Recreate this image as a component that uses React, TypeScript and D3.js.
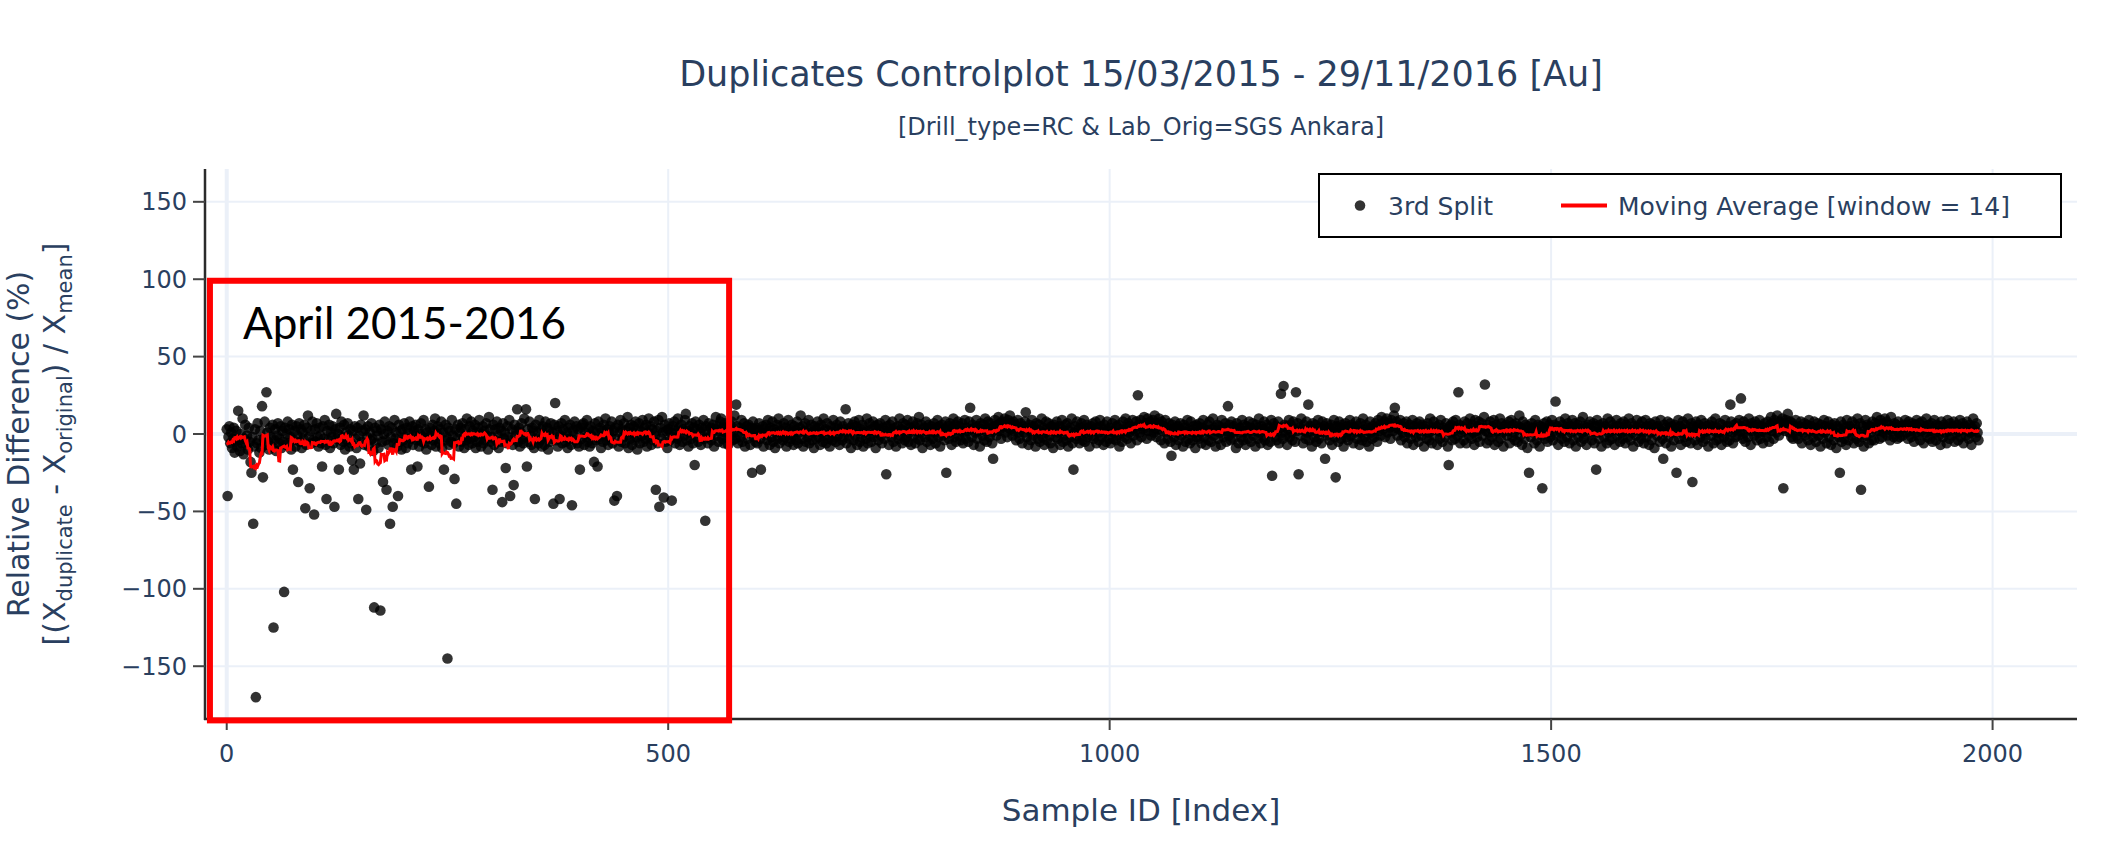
import * as d3 from 'd3';

// relative difference (%) per sample index in blocks of 100 samples
const split_0000 = [
  3, -40, -2, 5, -6, 1, -9, -3, 4, -12,
  -5, 2, -8, 15, -4, -11, 0, -6, 10, -13,
  -3, 6, -7, -1, -10, 4, -5, -18, -25, -2,
  -58, -8, 3, -170, -6, 7, -4, -12, 2, -9,
  18, -28, -3, 8, -7, 27, 1, -5, -10, 4,
  -2, -8, 6, -125, -4, 3, -11, -1, 7, -6,
  -3, 5, -9, 2, -5, -102, 4, -7, 0, 8,
  -6, 3, -2, -10, 6, -23, -4, 2, -8, 5,
  -1, -31, 7, -5, 3, -9, 1, -3, 6, -48,
  -7, 4, 12, -2, -35, 2, -6, 8, -4, -52,
];
const split_0100 = [
  3, -5, 7, -2, -8, 4, -1, -6, -21, 5,
  -3, 9, -7, -42, 2, -4, 6, -9, 1, -2,
  5, -6, -47, 3, 13, -3, 0, -23, 4, -7,
  8, -2, -5, 6, -10, 1, -4, 7, -1, -8,
  3, -6, -17, 2, -23, 5, -3, -9, 4, -42,
  -1, -19, 6, -5, 2, 12, -7, 3, -49, -2,
  5, -8, 1, -4, 7, -3, -11, -112, 4, -6,
  2, -1, -9, 6, -114, 3, -5, -31, 0, 8,
  -4, -36, 2, -7, 5, -58, -2, 4, -47, -6,
  9, -3, 1, -8, -40, 6, -5, 2, -10, 3,
];
const split_0200 = [
  -4, 7, -2, -9, 4, -6, 1, 8, -3, -23,
  5, -7, 2, -1, 6, -4, -21, 3, -8, 0,
  7, -5, -2, 9, -6, 3, -10, 1, -3, -34,
  4, -1, -7, 6, -4, 2, 10, -8, 0, 5,
  -3, -6, 3, 8, -9, 1, -23, -4, 6, -2,
  -145, 4, -7, 2, -5, 9, -1, -6, -29, 3,
  -45, -3, 6, -8, 1, 4, -5, 7, -2, -9,
  3, -4, 10, -1, -7, 5, -3, 8, -6, 2,
  -2, 6, -9, 1, -5, 4, 9, -3, -8, 0,
  5, -6, 2, -4, 7, -1, -10, 11, 3, -5,
];
const split_0300 = [
  -2, -36, 6, -7, 3, -4, 8, -1, -9, 4,
  -5, 2, -44, 7, -3, 1, -22, -6, 5, -2,
  9, -40, -4, 3, -7, -33, 6, -1, 2, 16,
  -5, 4, -8, 1, 7, -3, -6, 10, -2, 16,
  -21, 3, -5, 8, -1, -7, 4, 2, -9, -42,
  6, -3, 1, -6, 9, -4, 3, -8, 5, -2,
  -7, 8, -1, 4, -10, 2, -5, 7, -3, 1,
  -45, 6, 20, -4, 2, -8, 5, -42, -1, 7,
  -6, 3, -2, 9, -5, 1, -9, 4, -3, 6,
  -7, -46, 2, -1, 8, -4, 5, -6, 3, -8,
];
const split_0400 = [
  -23, 4, -3, 6, 7, -7, 1, -2, 9, -5,
  3, -8, 5, -1, -6, 2, -18, 7, -4, 1,
  -21, 8, -3, 4, -9, 2, -5, 6, -1, 10,
  -4, 3, -7, 1, 5, -2, 8, -6, 2, -43,
  4, -3, -40, 6, -8, 1, 9, -5, 3, -2,
  7, -6, 2, -1, 11, -9, 4, -3, 6, -7,
  1, 5, -4, 8, -2, -10, 3, 7, -6, 2,
  -1, 9, -5, 4, -3, 6, -8, 1, 10, -2,
  5, -7, 3, -4, 8, -1, -36, 2, -6, 9,
  -47, 4, -3, 11, 1, -41, 6, -5, 2, -9,
];
const split_0500 = [
  3, 7, -4, 1, -43, 5, -2, 8, -6, 2,
  -3, 10, 4, -7, 1, 6, -5, 3, -1, 9,
  13, -4, 2, -8, 5, 1, -3, 7, -6, 4,
  -20, 8, -2, 3, -5, 6, 1, -7, 4, -1,
  9, -3, -56, 5, 2, -6, 7, -2, 4, -4,
  1, 6, -8, 3, 11, -1, 5, -5, 2, 8,
  10, -3, 4, -6, 7, 1, -2, 5, -7, 3,
  6, -1, 8, -4, 2, 12, -3, 19, 5, -6,
  1, 4, -2, 9, -5, 3, 7, -8, 2, 5,
  -3, 6, 1, -7, 4, -25, 8, -2, 3, -5,
];
const split_0600 = [
  4, -6, 2, 7, -3, -23, 1, 5, -8, 3,
  -1, 6, -4, 9, 2, -7, 4, -2, 8, -5,
  3, -9, 1, 6, -3, 10, -6, 2, 5, -1,
  -4, 7, -2, 4, -8, 1, 9, -5, 3, -3,
  6, -1, -7, 5, 2, -4, 8, -6, 1, 4,
  12, -3, 5, -8, 2, 7, -5, 1, -2, 9,
  -6, 3, 6, -4, 1, -9, 5, 2, -3, 8,
  -2, 4, -7, 6, 1, -5, 10, -1, 3, -6,
  7, -3, 2, -8, 5, 1, -4, 9, -2, 4,
  -5, 6, -1, 3, -7, 8, 2, -4, 5, -2,
];
const split_0700 = [
  3, 16, -6, 1, 7, -3, 4, -9, 2, 6,
  -4, 8, -1, 5, -7, 2, 9, -5, 3, -2,
  6, -8, 1, 4, -3, 10, -6, 2, 7, -1,
  -5, 3, 8, -2, 5, -9, 1, 6, -4, 3,
  7, -1, -6, 4, 2, -3, 9, -26, 5, 1,
  -7, 6, 3, -2, 8, -5, 1, 4, -8, 2,
  5, -3, 10, -1, 3, -6, 7, 2, -4, 6,
  -2, 9, -5, 1, 4, -7, 3, 8, -1, 5,
  -6, 2, 7, -3, 11, -4, 1, 6, -9, 3,
  4, -2, 8, -5, 2, 6, -1, -7, 5, 3,
];
const split_0800 = [
  -3, 7, 1, -6, 4, 9, -2, 5, -8, 2,
  6, -1, 3, -4, 8, -25, 2, 5, -3, 7,
  1, -7, 4, 10, -2, 6, -5, 3, 8, -1,
  5, -4, 2, 7, -6, 1, 9, -3, 4, 2,
  -5, 8, 17, 3, -2, 6, -7, 4, 1, 9,
  -3, 5, 2, -8, 7, 3, -1, 6, -4, 10,
  2, -5, 8, 4, -2, 7, 1, -6, -16, 5,
  9, 3, -1, 6, 11, 2, 7, -3, 8, 4,
  5, 10, 1, 6, -2, 9, 4, 12, 3, 7,
  -1, 8, 2, 6, -4, 5, 9, 1, -3, 7,
];
const split_0900 = [
  3, -6, 5, 1, 8, 14, -2, 4, -7, 6,
  2, -4, 9, -1, 5, 3, -8, 7, 1, -3,
  6, -5, 2, 10, -2, 4, -7, 1, 8, -4,
  3, 7, -1, -6, 5, 2, -9, 6, 4, -2,
  8, -3, 1, 5, -7, 3, 9, -5, 2, -1,
  6, -4, 7, -8, 2, 4, -2, 10, -6, -23,
  1, 5, -3, 8, -1, 3, -6, 4, 7, -4,
  2, 9, -5, 1, 6, -2, 4, -8, 3, 5,
  -1, 7, -3, 2, 8, -6, 4, 1, -4, 9,
  5, -2, 3, -7, 6, 1, -5, 8, 2, -3,
];
const split_1000 = [
  4, -6, 2, 7, -3, 1, 9, -4, 5, -1,
  6, -8, 3, 1, -5, 8, 2, -2, 10, 4,
  -3, 7, 1, 5, -6, 3, 9, -1, 4, 2,
  8, -4, 25, 6, 1, 9, -2, 5, 3, 11,
  4, 7, -3, 10, 2, 6, 8, -1, 5, 9,
  1, 12, 4, -2, 7, 3, 10, 6, -4, 8,
  2, 5, -6, 9, 1, 4, -3, 7, 2, -5,
  -14, 6, 3, -2, 8, -7, 1, 5, -4, 3,
  7, -1, 2, -8, 6, 4, -5, 1, 9, -3,
  3, -6, 8, 2, -4, 5, 1, -9, 6, -2,
];
const split_1100 = [
  5, -3, 7, 1, -6, 4, 9, -2, 3, -7,
  2, 6, -4, 8, 1, -5, 3, 10, -1, 4,
  -8, 2, 6, -3, 5, 1, -7, 9, 3, -2,
  4, 7, -5, 2, 18, -1, 6, -4, 8, 1,
  -3, 5, 2, -9, 7, 3, -6, 4, 1, -2,
  9, -4, 6, 2, -7, 5, 1, -3, 8, 4,
  -5, 3, 7, -1, 2, -8, 6, 4, -3, 10,
  1, -6, 5, 3, -2, 8, -4, 2, 6, -7,
  4, 1, -5, 9, -27, 3, 7, -2, 5, -4,
  2, 8, -6, 4, 26, 1, -3, 31, 6, -1,
];
const split_1200 = [
  5, -7, 3, 9, -2, 6, 1, -4, 8, 3,
  -5, 27, 2, 7, -26, 4, -1, 10, 3, -6,
  6, 2, -3, 8, 1, 19, -4, 5, 2, -8,
  7, 3, -2, 6, -5, 1, 9, -3, 4, 2,
  -6, 8, 1, 5, -16, 3, 7, -1, 4, -4,
  2, 6, -7, 3, 9, -2, -28, 5, 1, -5,
  8, 4, -3, 6, 1, -8, 3, 7, -2, 5,
  -4, 2, 9, -1, 6, 3, -6, 4, 1, 8,
  -3, 5, 2, -7, 7, 1, -4, 10, 3, -2,
  6, -5, 4, 2, -8, 8, 1, -3, 5, 3,
];
const split_1300 = [
  -2, 7, 4, -5, 9, 2, 6, -1, 11, 5,
  3, 8, -2, 6, 10, 1, 7, 4, -3, 9,
  5, 2, 12, 17, 4, 8, -1, 6, 3, 9,
  -4, 5, 1, 7, -2, 4, 8, -6, 3, 1,
  6, -3, 2, 9, -7, 5, 1, -2, 7, 3,
  -5, 8, 4, -1, 6, 2, -8, 5, 3, -3,
  7, 1, -4, 10, 2, -6, 4, 8, -1, 3,
  5, -7, 2, 6, -3, 9, 1, -5, 4, 2,
  -2, 7, 3, -8, -20, 5, 1, 6, -4, 8,
  2, -3, 9, 4, -1, 27, 6, -6, 3, 1,
];
const split_1400 = [
  5, -4, 8, 2, -6, 7, 3, -1, 10, 4,
  -3, 6, 1, -7, 9, 2, -2, 5, 8, -5,
  3, 7, -1, 4, 11, 32, 2, -6, 6, 1,
  -4, 8, 3, -2, 5, 9, -7, 1, 6, 2,
  -5, 4, 10, -3, 7, 1, -8, 5, 3, 6,
  -1, 2, 8, -6, 4, 9, -2, 6, 1, -4,
  7, 3, -5, 5, 12, -1, 4, -7, 8, 2,
  -3, 6, 1, -9, 5, -25, 3, -2, 7, 4,
  1, -6, 9, 2, -4, 6, 3, -8, 5, -1,
  -35, 4, 7, -3, 2, 8, -5, 1, 6, -2,
];
const split_1500 = [
  4, 9, -4, 2, 6, 21, -1, 5, -7, 3,
  8, 1, -3, 6, 2, -5, 10, 4, -2, 7,
  3, -6, 5, 1, 9, -4, 2, 7, -8, 4,
  6, -2, 3, 8, -5, 1, 11, -3, 5, 2,
  -7, 4, 6, -1, 8, 3, -4, 2, 7, -6,
  5, -23, 9, 1, -3, 6, 2, -8, 4, 7,
  -2, 5, 3, -6, 10, 1, -4, 8, 2, -3,
  6, 4, -7, 3, 9, -1, 5, 2, -5, 7,
  1, -3, 8, 4, -6, 6, 2, -2, 10, 3,
  -4, 7, 1, -8, 5, 3, -1, 9, 4, -5,
];
const split_1600 = [
  6, 2, -3, 8, 1, -6, 4, 9, -2, 5,
  3, -7, 7, 1, -4, 6, 2, -9, 8, 4,
  -1, 5, 3, -5, 9, 2, -3, -16, 6, 1,
  -6, 4, 8, -2, 3, 7, -8, 5, 1, -4,
  6, 2, -25, 4, 9, -3, 5, -7, 1, 8,
  3, -2, 6, -5, 2, 10, -1, 4, -6, 7,
  -31, 5, 1, -4, 8, 3, -7, 6, 2, -2,
  9, 4, -5, 1, 7, -3, 5, 2, -8, 6,
  3, -1, 8, 5, -6, 2, 10, -4, 4, 1,
  -3, 7, 2, -7, 6, 1, -2, 9, 3, -5,
];
const split_1700 = [
  5, 2, -4, 19, 8, 1, -6, 6, 3, -2,
  7, 4, -1, 9, 2, 23, 5, -3, 8, 1,
  -5, 6, 3, -2, 10, 4, -7, 7, 2, 5,
  -1, 8, 3, -4, 6, 1, 9, -3, 5, 2,
  -6, 4, 7, 1, -2, 8, 3, -5, 6, 11,
  2, 7, -3, 9, 4, 1, 12, 6, -1, 8,
  5, 3, 10, -35, 7, 2, 9, 4, 13, 6,
  1, 8, -2, 7, -3, 5, 2, 9, -1, 4,
  -3, 5, 2, 8, -6, 4, 1, 7, -1, 3,
  6, -4, 9, 2, -7, 5, 3, -2, 8, 1,
];
const split_1800 = [
  -5, 4, 7, -1, 3, -8, 6, 2, -3, 9,
  1, 5, -6, 3, 8, -2, 4, -7, 6, 2,
  -4, 7, 1, -9, 5, 3, -2, -25, 8, -5,
  2, 6, -3, 4, -7, 9, 1, -4, 5, 3,
  -1, 8, 2, -6, 6, 3, -3, 10, 1, -5,
  7, -36, -2, 5, -8, 2, 9, -1, 6, 3,
  -6, 5, 1, -4, 8, 4, -4, 7, 2, 11,
  6, 2, -3, 9, 4, -2, 7, 1, 10, 3,
  8, -1, 6, 3, -4, 11, 2, 5, -2, 7,
  3, 6, -3, 8, 1, -2, 5, 4, -1, 6,
];
const split_1900 = [
  4, 9, 1, 6, -3, 8, 2, 5, -2, 7,
  3, -5, 6, 1, 9, -1, 4, 7, -4, 2,
  8, 3, -6, 5, 1, 10, -2, 4, 6, -3,
  2, 7, -5, 3, 9, 1, -4, 6, 2, -1,
  5, -7, 8, 3, -2, 6, 1, 4, -6, 9,
  2, -3, 7, 4, -1, 5, 8, -5, 3, 1,
  6, -4, 2, 9, -2, 4, 7, -6, 3, 5,
  -1, 8, 2, -3, 6, 1, -7, 4, 10, 2,
  5, -2, 7, 1, -4,
];

const splitBlocks = [
  split_0000, split_0100, split_0200, split_0300, split_0400,
  split_0500, split_0600, split_0700, split_0800, split_0900,
  split_1000, split_1100, split_1200, split_1300, split_1400,
  split_1500, split_1600, split_1700, split_1800, split_1900,
];

const movingWindow = 14;

const xTicks = [0, 500, 1000, 1500, 2000];
const yTicks = [-150, -100, -50, 0, 50, 100, 150];
const xDomain = [-24.6, 2095.6];
const yDomain = [-184.1, 171.2];

const titleText = 'Duplicates Controlplot 15/03/2015 - 29/11/2016 [Au]';
const subtitleText = '[Drill_type=RC & Lab_Orig=SGS Ankara]';
const seriesNames = ['3rd Split', `Moving Average [window = ${movingWindow}]`];

// highlighted period (sample index range, value range)
const periodLabel = 'April 2015-2016';
const periodIndex = [-19, 569];
const periodValue = [-185, 99];

const W = 2116;
const H = 843;
const plot = { left: 205, right: 2077, top: 169, bottom: 719 };
const font = '"DejaVu Sans", Verdana, sans-serif';
const textColor = '#2a3f5f';
const gridColor = '#ebf0f8';

const fmt = (v: number) => (v < 0 ? '\u2212' + Math.abs(v) : String(v));

export default function App() {
  const x = d3.scaleLinear().domain(xDomain).range([plot.left, plot.right]);
  const y = d3.scaleLinear().domain(yDomain).range([plot.bottom, plot.top]);

  const values = splitBlocks.flat();
  const half = movingWindow / 2;
  // centred rolling mean, like pandas rolling(window, center=True, min_periods=1)
  const average = values.map((_, i) =>
    d3.mean(values.slice(Math.max(0, i - half), i + half)) as number
  );

  const line = d3
    .line<number>()
    .x((_, i) => x(i))
    .y((d) => y(d));

  const midX = (plot.left + plot.right) / 2;
  const midY = (plot.top + plot.bottom) / 2;
  const legendTop = 174;
  const legendMid = 205.5;

  return (
    <svg
      width={W}
      height={H}
      style={{ position: 'absolute', left: 0, top: 0, background: '#fff' }}
      fontFamily={font}
    >
      <rect width={W} height={H} fill="#fff" />

      {/* grid */}
      {yTicks.map((t) => (
        <line
          key={'gy' + t}
          x1={plot.left}
          x2={plot.right}
          y1={y(t)}
          y2={y(t)}
          stroke={gridColor}
          strokeWidth={t === 0 ? 4 : 2}
        />
      ))}
      {xTicks.map((t) => (
        <line
          key={'gx' + t}
          x1={x(t)}
          x2={x(t)}
          y1={plot.top}
          y2={plot.bottom}
          stroke={gridColor}
          strokeWidth={t === 0 ? 4 : 2}
        />
      ))}

      {/* scatter */}
      <g fill="#000" fillOpacity={0.8}>
        {values.map((v, i) => (
          <circle key={i} cx={x(i)} cy={y(v)} r={5.3} />
        ))}
      </g>

      {/* moving average */}
      <path d={line(average) || ''} fill="none" stroke="#ff0000" strokeWidth={3} />

      {/* axes */}
      <line x1={plot.left} x2={plot.left} y1={plot.top} y2={plot.bottom + 1} stroke="#2b2b2b" strokeWidth={2.5} />
      <line x1={plot.left - 1} x2={plot.right} y1={plot.bottom} y2={plot.bottom} stroke="#2b2b2b" strokeWidth={2.5} />
      {yTicks.map((t) => (
        <g key={'ty' + t}>
          <line x1={plot.left - 12} x2={plot.left} y1={y(t)} y2={y(t)} stroke="#444" strokeWidth={2} />
          <text x={plot.left - 18} y={y(t)} dy="0.36em" textAnchor="end" fontSize={24} fill={textColor}>
            {fmt(t)}
          </text>
        </g>
      ))}
      {xTicks.map((t) => (
        <g key={'tx' + t}>
          <line x1={x(t)} x2={x(t)} y1={plot.bottom} y2={plot.bottom + 11} stroke="#444" strokeWidth={2} />
          <text x={x(t)} y={762} textAnchor="middle" fontSize={24} fill={textColor}>
            {fmt(t)}
          </text>
        </g>
      ))}

      {/* axis titles */}
      <text x={midX} y={821} textAnchor="middle" fontSize={31} fill={textColor}>
        Sample ID [Index]
      </text>
      <g transform={`translate(29, ${midY}) rotate(-90)`}>
        <text textAnchor="middle" fontSize={30} fill={textColor}>
          Relative Difference (%)
        </text>
      </g>
      <g transform={`translate(65, ${midY}) rotate(-90)`}>
        <text textAnchor="middle" fontSize={30} fill={textColor}>
          [(X<tspan fontSize={21} dy={7}>duplicate</tspan>
          <tspan dy={-7}> - X</tspan>
          <tspan fontSize={21} dy={7}>original</tspan>
          <tspan dy={-7}>) / X</tspan>
          <tspan fontSize={21} dy={7}>mean</tspan>
          <tspan dy={-7}>]</tspan>
        </text>
      </g>

      {/* title */}
      <text x={midX} y={86} textAnchor="middle" fontSize={35} fill={textColor}>
        {titleText}
      </text>
      <text x={midX} y={135} textAnchor="middle" fontSize={24} fill={textColor}>
        {subtitleText}
      </text>

      {/* legend */}
      <rect x={1319} y={legendTop} width={742} height={63} fill="#fff" stroke="#000" strokeWidth={2} />
      <circle cx={1360} cy={legendMid} r={5.3} fill="#000" fillOpacity={0.8} />
      <text x={1388} y={legendMid} dy="0.36em" fontSize={25} fill={textColor}>
        {seriesNames[0]}
      </text>
      <line x1={1561} x2={1607} y1={legendMid} y2={legendMid} stroke="#ff0000" strokeWidth={4} />
      <text x={1618} y={legendMid} dy="0.36em" fontSize={25} fill={textColor}>
        {seriesNames[1]}
      </text>

      {/* highlighted period */}
      <rect
        x={x(periodIndex[0])}
        y={y(periodValue[1])}
        width={x(periodIndex[1]) - x(periodIndex[0])}
        height={y(periodValue[0]) - y(periodValue[1])}
        fill="none"
        stroke="#ff0000"
        strokeWidth={6}
      />
      <text x={x(periodIndex[0]) + 33} y={339} fontFamily="Lato, 'Open Sans', sans-serif" fontSize={44} fill="#000">
        {periodLabel}
      </text>
    </svg>
  );
}
